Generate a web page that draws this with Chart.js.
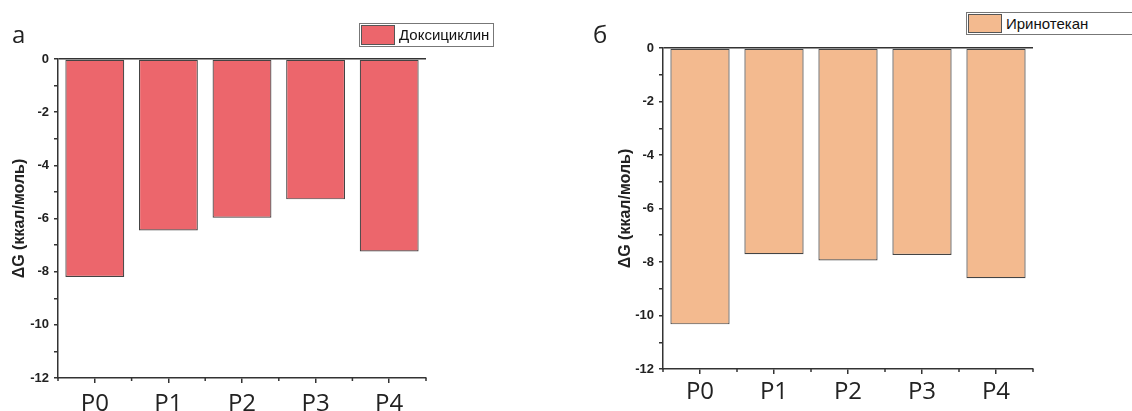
<!DOCTYPE html>
<html lang="ru">

<head>
  <meta charset="UTF-8">
  <title>ΔG</title>
  <script src="https://cdn.jsdelivr.net/npm/chart.js"></script>
  <style>
    body {
      margin: 0;
      width: 1132px;
      height: 411px;
      background: #fff;
      position: relative;
      overflow: hidden;
    }

    .panel {
      position: absolute;
      top: 0;
      width: 566px;
      height: 411px;
    }

    .letter {
      position: absolute;
      font-family: "Open Sans", sans-serif;
      font-size: 24px;
      line-height: 24px;
      color: #222;
    }

    .legend {
      position: absolute;
      border: 1px solid #777;
      background: #fff;
      font-family: "Liberation Sans", Arial, sans-serif;
      font-size: 15px;
      color: #111;
      box-sizing: border-box;
    }

    .legend .swatch {
      position: absolute;
      left: 1px;
      top: 1px;
      width: 34px;
      box-sizing: border-box;
      border: 1px solid #555;
    }

    .legend .text {
      position: absolute;
      left: 39px;
      top: 0;
      white-space: nowrap;
    }
  </style>
</head>

<body>
  <div class="panel" style="left:0"><canvas id="chartA" width="566" height="411"></canvas></div>
  <div class="panel" style="left:566px"><canvas id="chartB" width="566" height="411"></canvas></div>

  <div class="letter" style="left:12px; top:22px">а</div>
  <div class="letter" style="left:593px; top:22px">б</div>

  <div class="legend" style="left:359px; top:23px; width:135px; height:24px">
    <div class="swatch" style="height:20px; background:#ec666c"></div>
    <div class="text" style="line-height:22px">Доксициклин</div>
  </div>
  <div class="legend" style="left:966px; top:12px; width:170px; height:23px">
    <div class="swatch" style="height:19px; background:#f3ba8f"></div>
    <div class="text" style="line-height:21px">Иринотекан</div>
  </div>

  <script>
    var categories = ['P0', 'P1', 'P2', 'P3', 'P4'];
    var doxycyclineValues = [-8.2, -6.45, -5.97, -5.28, -7.24];
    var irinotecanValues = [-10.33, -7.71, -7.94, -7.74, -8.61];
    var yMin = -12;
    var yMax = 0;
    var yTitle = 'ΔG (ккал/моль)';

    // small ticks between categories, like the minor ticks of the original
    var boundaryTicks = {
      id: 'boundaryTicks',
      afterDraw(chart) {
        var xs = chart.scales.x;
        var ctx = chart.ctx;
        ctx.save();
        ctx.strokeStyle = '#333';
        ctx.lineWidth = 1.5;
        for (var i = 0; i <= categories.length; i++) {
          var x = xs.getPixelForValue(i - 0.5);
          ctx.beginPath();
          ctx.moveTo(x, xs.top);
          ctx.lineTo(x, xs.top + 3);
          ctx.stroke();
        }
        ctx.restore();
      }
    };

    function makeChart(id, label, values, color, pad, yWidth, xHeight, xPad) {
      return new Chart(document.getElementById(id), {
        type: 'bar',
        data: {
          labels: categories,
          datasets: [{
            label: label,
            data: values,
            backgroundColor: color,
            borderColor: '#444',
            borderWidth: 1.2,
            borderSkipped: false,
            barPercentage: 0.8,
            categoryPercentage: 1
          }]
        },
        options: {
          responsive: false,
          animation: false,
          devicePixelRatio: 1,
          layout: { padding: pad },
          plugins: {
            legend: { display: false },
            tooltip: { enabled: false }
          },
          scales: {
            x: {
              grid: {
                offset: false,
                drawOnChartArea: false,
                tickLength: 5,
                tickColor: '#333',
                lineWidth: 1.5
              },
              border: { color: '#333', width: 1.5 },
              ticks: {
                font: { family: 'Open Sans', size: 24 },
                color: '#222',
                padding: xPad,
                maxRotation: 0
              },
              afterFit: function (s) { s.height = xHeight; }
            },
            y: {
              min: yMin,
              max: yMax,
              ticks: {
                stepSize: 1,
                callback: function (v) { return v % 2 === 0 ? v : ''; },
                font: { family: 'Arial', weight: 'bold', size: 13 },
                color: '#222',
                padding: 5
              },
              grid: {
                drawOnChartArea: true,
                color: function (c) { return c.tick && c.tick.value === 0 ? '#333' : 'rgba(0,0,0,0)'; },
                tickColor: '#333',
                tickLength: 4,
                lineWidth: 1.5
              },
              border: { color: '#333', width: 1.5 },
              title: {
                display: true,
                text: yTitle,
                font: { family: 'Arial', weight: 'bold', size: 16 },
                color: '#222',
                padding: 0
              },
              afterFit: function (s) { s.width = yWidth; }
            }
          }
        },
        plugins: [boundaryTicks]
      });
    }

    makeChart('chartA', 'Доксициклин', doxycyclineValues, '#ec666c',
      { left: 10, top: 59, right: 140, bottom: 0 }, 48, 33, 7);
    makeChart('chartB', 'Иринотекан', irinotecanValues, '#f3ba8f',
      { left: 50, top: 48, right: 99, bottom: 0 }, 47, 42, 4);
  </script>
</body>

</html>
